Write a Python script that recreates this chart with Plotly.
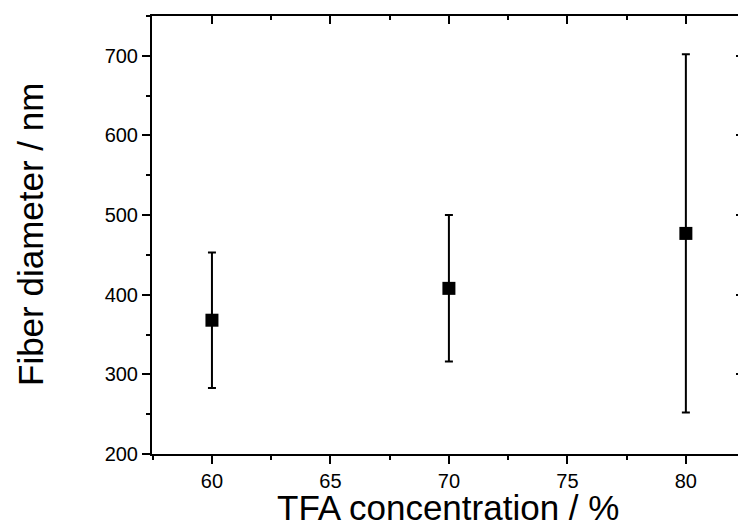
import plotly.graph_objects as go

# Data
tfa_concentration = [60, 70, 80]
fiber_diameter_mean = [368, 408, 477]
fiber_diameter_sd = [85, 92, 225]

x_tick_values = [60, 65, 70, 75, 80]
y_tick_values = [200, 300, 400, 500, 600, 700]

FONT = "Liberation Sans, Arial, sans-serif"

fig = go.Figure()

fig.add_trace(go.Scatter(
    x=tfa_concentration,
    y=fiber_diameter_mean,
    mode="markers",
    marker=dict(symbol="square", size=13, color="black"),
    error_y=dict(type="data", array=fiber_diameter_sd, visible=True,
                 color="black", thickness=2, width=4),
    showlegend=False,
    hoverinfo="x+y",
))

# invisible trace so the mirrored top/right axes are drawn
fig.add_trace(go.Scatter(
    x=tfa_concentration,
    y=fiber_diameter_mean,
    xaxis="x2", yaxis="y2",
    mode="markers",
    marker=dict(opacity=0),
    showlegend=False,
    hoverinfo="skip",
))

xrange = [57.47, 82.2]
yrange = [200, 750]

fig.update_layout(
    width=738, height=532,
    margin=dict(l=152, r=0, t=15.5, b=78),
    plot_bgcolor="white", paper_bgcolor="white",
    font=dict(family=FONT, color="black", size=20),
    xaxis=dict(
        range=xrange, tickvals=x_tick_values, ticktext=[str(v) for v in x_tick_values],
        ticks="outside", ticklen=8, tickwidth=2, tickcolor="black",
        minor=dict(dtick=2.5, tick0=60, ticks="outside", ticklen=4, tickwidth=2, tickcolor="black"),
        showline=True, linewidth=2, linecolor="black",
        showgrid=False, zeroline=False,
        tickfont=dict(size=20, family=FONT, color="black"),
    ),
    yaxis=dict(
        range=yrange, tickvals=y_tick_values, ticktext=[str(v) for v in y_tick_values],
        ticks="outside", ticklen=8, tickwidth=2, tickcolor="black",
        minor=dict(dtick=50, tick0=200, ticks="outside", ticklen=4, tickwidth=2, tickcolor="black"),
        showline=True, linewidth=2, linecolor="black",
        showgrid=False, zeroline=False,
        tickfont=dict(size=20, family=FONT, color="black"),
    ),
    xaxis2=dict(
        overlaying="x", side="top", anchor="y", range=xrange,
        tickvals=x_tick_values, showticklabels=False,
        ticks="inside", ticklen=8, tickwidth=2, tickcolor="black",
        minor=dict(dtick=2.5, tick0=60, ticks="inside", ticklen=4, tickwidth=2, tickcolor="black"),
        showline=True, linewidth=2, linecolor="black",
        showgrid=False, zeroline=False,
    ),
    yaxis2=dict(
        overlaying="y", side="right", anchor="x", range=yrange,
        tickvals=y_tick_values, showticklabels=False,
        ticks="inside", ticklen=2, tickwidth=2, tickcolor="black",
        showline=False, showgrid=False, zeroline=False,
    ),
    annotations=[
        dict(text="TFA concentration / %", xref="paper", yref="paper",
             x=0.505, y=0, xanchor="center", yanchor="middle", yshift=-53,
             showarrow=False, font=dict(size=35, family=FONT, color="black")),
        dict(text="Fiber diameter / nm", xref="paper", yref="paper",
             x=0, y=0.5, xanchor="center", yanchor="middle", xshift=-122,
             textangle=-90,
             showarrow=False, font=dict(size=35, family=FONT, color="black")),
    ],
)

# remove the page's default 8px body margin so the figure fills the window exactly
fig.write_html("out.html", config={"displayModeBar": False},
               post_script="document.body.style.margin='0';")
